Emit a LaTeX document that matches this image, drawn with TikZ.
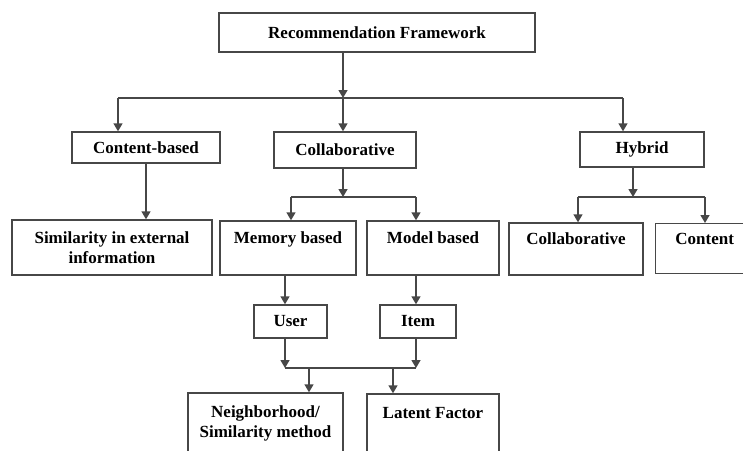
\documentclass[tikz,border=0pt]{standalone}
\usepackage{fontspec}
\setmainfont{Liberation Serif}
\usetikzlibrary{arrows.meta}
\begin{document}
\begin{tikzpicture}[x=1pt,y=-1pt,
  box/.style={draw=black!72, line width=1.4pt, inner sep=0pt, align=center,
    font=\bfseries\fontsize{17}{20}\selectfont},
  wire/.style={draw=black!72, line width=1.4pt},
  arr/.style={wire, -{Triangle[width=9pt,length=8pt]}}]
\clip (0,0) rectangle (743,450);
\fill[white] (0,0) rectangle (743,450);
% boxes
\node[box, minimum width=316pt, minimum height=39pt] (top) at (377,32.5) {Recommendation Framework};
\node[box, minimum width=148pt, minimum height=31pt] (cb) at (146,147.5) {Content-based};
\node[box, minimum width=142pt, minimum height=36pt] (col) at (345,150) {Collaborative};
\node[box, minimum width=124pt, minimum height=35pt] (hyb) at (642,149.5) {Hybrid};
\node[box, minimum width=200pt, minimum height=55pt] (sim) at (112,247.5) {Similarity in external\\information};
\node[box, minimum width=136pt, minimum height=54pt] (mem) at (288,248) {Memory based\\\mbox{}};
\node[box, minimum width=132pt, minimum height=54pt] (mod) at (433,248) {Model based\\\mbox{}};
\node[box, minimum width=134pt, minimum height=52pt] (hcol) at (576,249) {Collaborative\\\mbox{}};
\node[box, minimum width=140pt, minimum height=50pt, anchor=north west] (hcon) at (655,223) {\hspace*{-42pt}Content\\\mbox{}};
\node[box, minimum width=73pt, minimum height=33pt] (user) at (290.5,321.5) {User};
\node[box, minimum width=76pt, minimum height=33pt] (item) at (418,321.5) {Item};
\node[box, minimum width=155pt, minimum height=60pt] (nb) at (265.5,423) {Neighborhood/\\Similarity method};
\node[box, minimum width=132pt, minimum height=58pt] (lat) at (433,423) {Latent Factor\\\mbox{}};
% junction coordinates
\coordinate (b1) at (343,98);
\coordinate (b1l) at (118,98);
\coordinate (b1r) at (623,98);
\coordinate (b2) at (343,197);
\coordinate (b2l) at (291,197);
\coordinate (b2r) at (416,197);
\coordinate (b3) at (633,197);
\coordinate (b3l) at (578,197);
\coordinate (b3r) at (705,197);
\coordinate (b4l) at (285,368);
\coordinate (b4r) at (416,368);
\coordinate (b4a) at (309,368);
\coordinate (b4b) at (393,368);
% level 1
\draw[arr] (top.south -| b1) -- (b1);
\draw[wire] (b1l) -- (b1r);
\draw[arr] (b1l) -- (cb.north -| b1l);
\draw[arr] (b1) -- (col.north -| b1);
\draw[arr] (b1r) -- (hyb.north -| b1r);
% content-based
\draw[arr] (cb.south) -- (sim.north -| cb.south);
% collaborative
\draw[arr] (col.south -| b2) -- (b2);
\draw[wire] (b2l) -- (b2r);
\draw[arr] (b2l) -- (mem.north -| b2l);
\draw[arr] (b2r) -- (mod.north -| b2r);
% hybrid
\draw[arr] (hyb.south -| b3) -- (b3);
\draw[wire] (b3l) -- (b3r);
\draw[arr] (b3l) -- (hcol.north -| b3l);
\draw[arr] (b3r) -- (hcon.north -| b3r);
% memory / model
\draw[arr] (mem.south -| b4l) -- (user.north -| b4l);
\draw[arr] (mod.south -| b4r) -- (item.north -| b4r);
\draw[arr] (user.south -| b4l) -- (b4l);
\draw[arr] (item.south -| b4r) -- (b4r);
\draw[wire] (b4l) -- (b4r);
\draw[arr] (b4a) -- (nb.north -| b4a);
\draw[arr] (b4b) -- (lat.north -| b4b);
\end{tikzpicture}
\end{document}
